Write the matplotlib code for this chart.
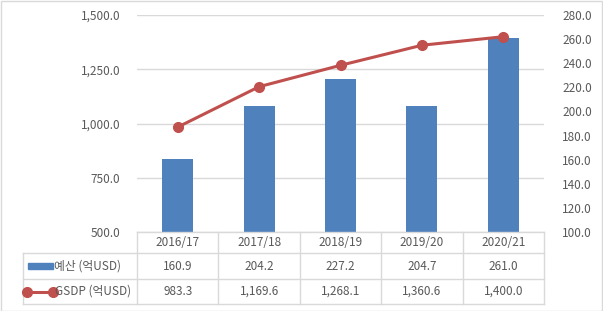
import matplotlib
matplotlib.use("Agg")
import matplotlib.pyplot as plt
from matplotlib.lines import Line2D
from matplotlib.patches import Rectangle
from matplotlib.ticker import FuncFormatter, MultipleLocator

plt.rcParams['font.family'] = ['Noto Sans CJK KR', 'DejaVu Sans']

categories = ['2016/17', '2017/18', '2018/19', '2019/20', '2020/21']
budget = [160.9, 204.2, 227.2, 204.7, 261.0]
gsdp = [983.3, 1169.6, 1268.1, 1360.6, 1400.0]
budget_labels = ['160.9', '204.2', '227.2', '204.7', '261.0']
gsdp_labels = ['983.3', '1,169.6', '1,268.1', '1,360.6', '1,400.0']
series_names = ['예산 (억USD)', 'GSDP (억USD)']

W, H = 603, 311
BAR_C = '#4F81BD'
LINE_C = '#C0504D'
TXT = '#595959'
GRID = '#D9D9D9'
FS = 8.5

fig = plt.figure(figsize=(W / 100, H / 100), dpi=100)
fig.patch.set_facecolor('white')

x0, x1, yb, yt = 137, 544, 232, 15
ax = fig.add_axes([x0 / W, (H - yb) / H, (x1 - x0) / W, (yb - yt) / H])
ax.set_xlim(-0.5, len(categories) - 0.5)
ax.set_ylim(500, 1500)
ax.yaxis.set_major_locator(MultipleLocator(250))
ax.yaxis.set_major_formatter(FuncFormatter(lambda v, p: f'{v:,.1f}'))
ax.grid(axis='y', color=GRID, linewidth=1)
ax.set_axisbelow(True)
ax.set_xticks([])
ax.tick_params(axis='y', length=0, pad=12, labelsize=FS, labelcolor=TXT)
for s in ax.spines.values():
    s.set_visible(False)

ax2 = ax.twinx()
ax2.set_ylim(100, 280)
ax2.yaxis.set_major_locator(MultipleLocator(20))
ax2.yaxis.set_major_formatter(FuncFormatter(lambda v, p: f'{v:.1f}'))
ax2.tick_params(axis='y', length=0, pad=13, labelsize=FS, labelcolor=TXT)
ax2.bar(range(len(categories)), budget, width=0.38, color=BAR_C)
for s in ax2.spines.values():
    s.set_visible(False)

ax3 = ax.twinx()
ax3.set_ylim(500, 1500)
ax3.axis('off')
ax3.plot(range(len(categories)), gsdp, color=LINE_C, linewidth=2.2,
         marker='o', markersize=7, clip_on=False)

# Data table below the chart
fig.canvas.draw()
def fx(xd):
    px = ax.transData.transform((xd, 0))[0]
    return px
rows_y = [232, 253, 279, 304]
left_px = 23

def hline(xa, xb, y):
    fig.add_artist(Line2D([xa / W, xb / W], [(H - y) / H, (H - y) / H],
                          color=GRID, linewidth=1))

def vline(x, ya, yb2):
    fig.add_artist(Line2D([x / W, x / W], [(H - ya) / H, (H - yb2) / H],
                          color=GRID, linewidth=1))

n = len(categories)
xs = [fx(i - 0.5) for i in range(n + 1)]
hline(xs[0], xs[-1], rows_y[0])
for y in rows_y[1:]:
    hline(left_px, xs[-1], y)
for xp in xs:
    vline(xp, rows_y[0], rows_y[-1])
vline(left_px, rows_y[1], rows_y[-1])

def cy(i):
    return (H - (rows_y[i] + rows_y[i + 1]) / 2) / H

for i, c in enumerate(categories):
    xc = fx(i) / W
    fig.text(xc, cy(0), c, ha='center', va='center', fontsize=FS, color=TXT)
    fig.text(xc, cy(1), budget_labels[i], ha='center', va='center', fontsize=FS, color=TXT)
    fig.text(xc, cy(2), gsdp_labels[i], ha='center', va='center', fontsize=FS, color=TXT)

# legend keys
fig.add_artist(Rectangle((28 / W, cy(1) - 3 / H), 25 / W, 6 / H,
                         color=BAR_C, transform=fig.transFigure))
fig.add_artist(Line2D([27 / W, 53 / W], [cy(2), cy(2)], color=LINE_C,
                      linewidth=2.2, marker='o', markersize=7))
fig.text(54 / W, cy(1), series_names[0], ha='left', va='center', fontsize=FS, color=TXT)
fig.text(55 / W, cy(2), series_names[1], ha='left', va='center', fontsize=FS, color=TXT)

# outer border
fig.add_artist(Rectangle((0.5 / W, 0.5 / H), (W - 1.5) / W, (H - 1.5) / H,
                         fill=False, edgecolor='#D9D9D9', linewidth=1,
                         transform=fig.transFigure))

fig.savefig('out.png', dpi=100)
